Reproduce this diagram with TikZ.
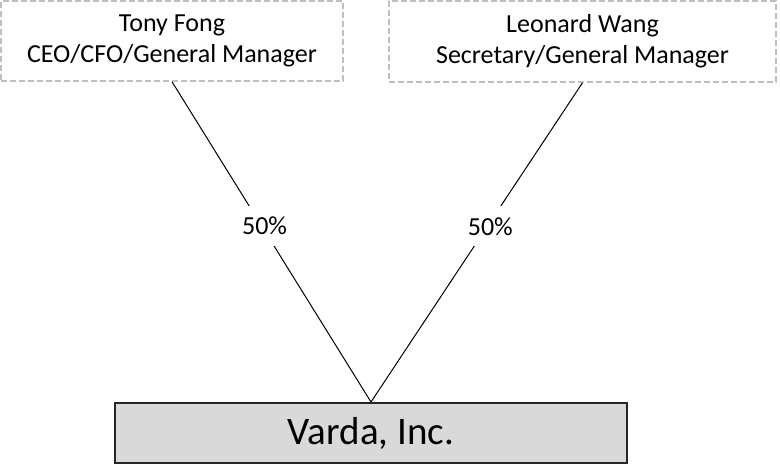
\documentclass[tikz,border=0pt]{standalone}
\usepackage{fontspec}
\setmainfont{Carlito}
\begin{document}
\begin{tikzpicture}[x=1pt,y=-1pt,
  person/.style={draw=black!25, dash pattern=on 6pt off 3pt, line width=1.5pt,
    inner sep=0pt, align=center, font=\fontsize{26}{31}\selectfont},
  company/.style={draw=black!85, fill=black!15, line width=2pt, inner sep=0pt,
    minimum width=512pt, minimum height=60pt, font=\fontsize{39}{46}\selectfont},
  link/.style={draw=black, line width=1pt},
  pct/.style={fill=white, inner sep=0pt, minimum width=50pt, minimum height=40pt,
    font=\fontsize{26}{31}\selectfont}]
\useasboundingbox (0,0) rectangle (780,471);
\node[person, minimum width=342pt, minimum height=80pt] (tony) at (172,41)
  {Tony Fong\\CEO/CFO/General Manager};
\node[person, minimum width=387pt, minimum height=81pt] (leonard) at (582.5,41.5)
  {Leonard Wang\\Secretary/General Manager};
\node[company] (varda) at (371,433) {Varda, Inc.};
\draw[link] (tony.south) -- node[pct, pos=0.45, xshift=3pt] {50\%} (varda.north);
\draw[link] (leonard.south) -- node[pct, pos=0.45, xshift=3pt] {50\%} (varda.north);
\end{tikzpicture}
\end{document}
